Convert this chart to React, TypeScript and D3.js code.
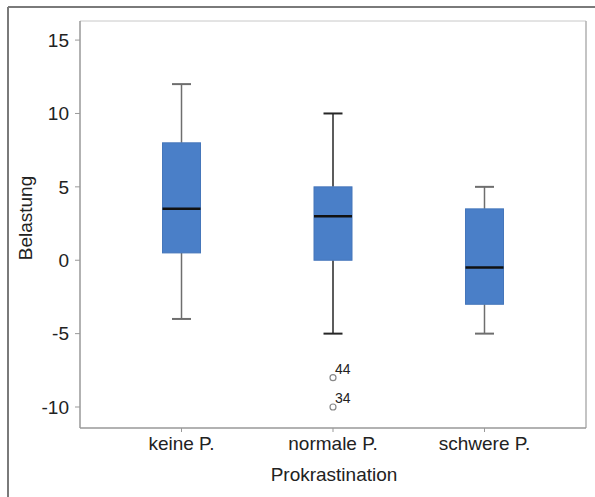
import React from "react";
import * as d3 from "d3";

const categories = ["keine P.", "normale P.", "schwere P."];
const mins = [-4, -5, -5];
const q1s = [0.5, 0, -3];
const medians = [3.5, 3, -0.5];
const q3s = [8, 5, 3.5];
const maxs = [12, 10, 5];
const outlierCats = ["normale P.", "normale P."];
const outlierValues = [-8, -10];
const outlierLabels = ["44", "34"];
const yTicks = [15, 10, 5, 0, -5, -10];

const W = 595;
const H = 497;
const left = 80;
const right = 586;
const top = 21;
const bottom = 428;
const font = "'Liberation Sans', Arial, sans-serif";

export default function App() {
  const y = d3.scaleLinear().domain([-11.43, 16.3]).range([bottom, top]);
  const x = d3.scalePoint<string>().domain(categories).range([left, right]).padding(0.67);
  const boxW = 38;
  const capW = 19;
  const whiskerColors = ["#6e6e6e", "#262626", "#6e6e6e"];

  return (
    <svg width={W} height={H} style={{ position: "absolute", left: 0, top: 0, background: "#fff" }}>
      {/* outer frame */}
      <line x1={8} x2={8} y1={7} y2={H} stroke="#7a7a7a" strokeWidth={2} />
      <line x1={8} x2={W} y1={7} y2={7} stroke="#7a7a7a" strokeWidth={2} />
      {/* plot frame */}
      <line x1={left} x2={right} y1={top} y2={top} stroke="#c8c8c8" strokeWidth={1} />
      <line x1={right} x2={right} y1={top} y2={bottom} stroke="#b0b0b0" strokeWidth={1.5} />
      <line x1={left} x2={right} y1={bottom} y2={bottom} stroke="#999" strokeWidth={1.5} />
      <line x1={left} x2={left} y1={top} y2={bottom} stroke="#999" strokeWidth={1.5} />
      {/* y ticks */}
      {yTicks.map((t) => (
        <g key={t}>
          <line x1={left - 5} x2={left} y1={y(t)} y2={y(t)} stroke="#999" strokeWidth={1} />
          <text x={left - 11} y={y(t)} dy="0.35em" textAnchor="end" fontFamily={font} fontSize={19} fill="#222">
            {t}
          </text>
        </g>
      ))}
      {/* x ticks */}
      {categories.map((c) => (
        <g key={c}>
          <line x1={x(c)!} x2={x(c)!} y1={bottom} y2={bottom + 4} stroke="#999" strokeWidth={1} />
          <text x={x(c)!} y={450} textAnchor="middle" fontFamily={font} fontSize={19} fill="#222">
            {c}
          </text>
        </g>
      ))}
      {/* boxes */}
      {categories.map((c, i) => {
        const cx = x(c)!;
        return (
          <g key={c}>
            <line x1={cx} x2={cx} y1={y(maxs[i])} y2={y(q3s[i])} stroke={whiskerColors[i]} strokeWidth={1.5} />
            <line x1={cx} x2={cx} y1={y(q1s[i])} y2={y(mins[i])} stroke={whiskerColors[i]} strokeWidth={1.5} />
            <line x1={cx - capW / 2} x2={cx + capW / 2} y1={y(maxs[i])} y2={y(maxs[i])} stroke={whiskerColors[i]} strokeWidth={2} />
            <line x1={cx - capW / 2} x2={cx + capW / 2} y1={y(mins[i])} y2={y(mins[i])} stroke={whiskerColors[i]} strokeWidth={2} />
            <rect
              x={cx - boxW / 2}
              y={y(q3s[i])}
              width={boxW}
              height={y(q1s[i]) - y(q3s[i])}
              fill="#4a7fc8"
              stroke="#4576ba"
              strokeWidth={1}
            />
            <line x1={cx - boxW / 2} x2={cx + boxW / 2} y1={y(medians[i])} y2={y(medians[i])} stroke="#111" strokeWidth={2.5} />
          </g>
        );
      })}
      {/* outliers */}
      {outlierValues.map((v, i) => {
        const cx = x(outlierCats[i])!;
        return (
          <g key={i}>
            <circle cx={cx} cy={y(v)} r={3} fill="#fff" stroke="#888" strokeWidth={1.2} />
            <text x={cx + 2} y={y(v) - 4} fontFamily={font} fontSize={14} fill="#222">
              {outlierLabels[i]}
            </text>
          </g>
        );
      })}
      {/* axis titles */}
      <text x={334} y={481} textAnchor="middle" fontFamily={font} fontSize={19} fill="#222">
        Prokrastination
      </text>
      <text
        transform={`translate(32,218) rotate(-90)`}
        textAnchor="middle"
        fontFamily={font}
        fontSize={19}
        fill="#222"
      >
        Belastung
      </text>
    </svg>
  );
}
